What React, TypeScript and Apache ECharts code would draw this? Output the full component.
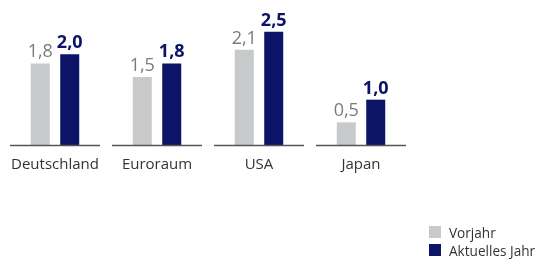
import React, { useEffect, useRef } from "react";
import * as echarts from "echarts";

const categories = ["Deutschland", "Euroraum", "USA", "Japan"];
const vorjahr = [1.8, 1.5, 2.1, 0.5];
const aktuell = [2.0, 1.8, 2.5, 1.0];
const seriesNames = ["Vorjahr", "Aktuelles Jahr"];

const GREY = "#c8c9cb";
const NAVY = "#0b1466";
const fmt = (v: number) => v.toFixed(1).replace(".", ",");

export default function App() {
  const ref = useRef<HTMLDivElement>(null);
  useEffect(() => {
    if (!ref.current) return;
    const chart = echarts.init(ref.current, null, { renderer: "svg" });
    chart.setOption({
      animation: false,
      grid: { left: 4, right: 131, top: 9, height: 136 },
      legend: {
        data: seriesNames,
        orient: "vertical",
        left: 429,
        top: 225,
        padding: 0,
        itemWidth: 12,
        itemHeight: 12,
        itemGap: 4,
        icon: "rect",
        textStyle: { fontFamily: "Open Sans", fontSize: 13.6, lineHeight: 12, color: "#333", padding: [0, 0, 0, 3] },
      },
      xAxis: {
        type: "category",
        data: categories,
        axisLine: { show: false },
        axisTick: { show: false },
        axisLabel: { interval: 0, fontFamily: "Open Sans", fontSize: 15, color: "#333", margin: 10 },
      },
      yAxis: { type: "value", min: 0, max: 3, show: false },
      series: [
        {
          name: seriesNames[0],
          type: "bar",
          data: vorjahr,
          barWidth: 19,
          barGap: "55%",
          itemStyle: { color: GREY },
          label: {
            show: true,
            position: "top",
            distance: 4,
            formatter: (p: any) => fmt(p.value),
            fontFamily: "Open Sans",
            fontSize: 18,
            color: "#7b7b7d",
          },
        },
        {
          name: seriesNames[1],
          type: "bar",
          data: aktuell,
          barWidth: 19,
          itemStyle: { color: NAVY },
          label: {
            show: true,
            position: "top",
            distance: 4,
            formatter: (p: any) => fmt(p.value),
            fontFamily: "Open Sans",
            fontSize: 18,
            fontWeight: "bold",
            color: NAVY,
          },
        },
        {
          type: "custom",
          data: categories.map((_, i) => [i, 0]),
          silent: true,
          z: 5,
          renderItem: (params: any, api: any) => {
            const p = api.coord([api.value(0), 0]);
            const bw = api.size([1, 0])[0];
            return {
              type: "line",
              shape: { x1: p[0] - bw / 2 + 6, y1: p[1] + 0.5, x2: p[0] + bw / 2 - 6, y2: p[1] + 0.5 },
              style: { stroke: "#555", lineWidth: 1.3 },
            };
          },
        },
      ],
    });
    return () => chart.dispose();
  }, []);
  return <div ref={ref} style={{ position: "fixed", left: 0, top: 0, width: 543, height: 259 }} />;
}
